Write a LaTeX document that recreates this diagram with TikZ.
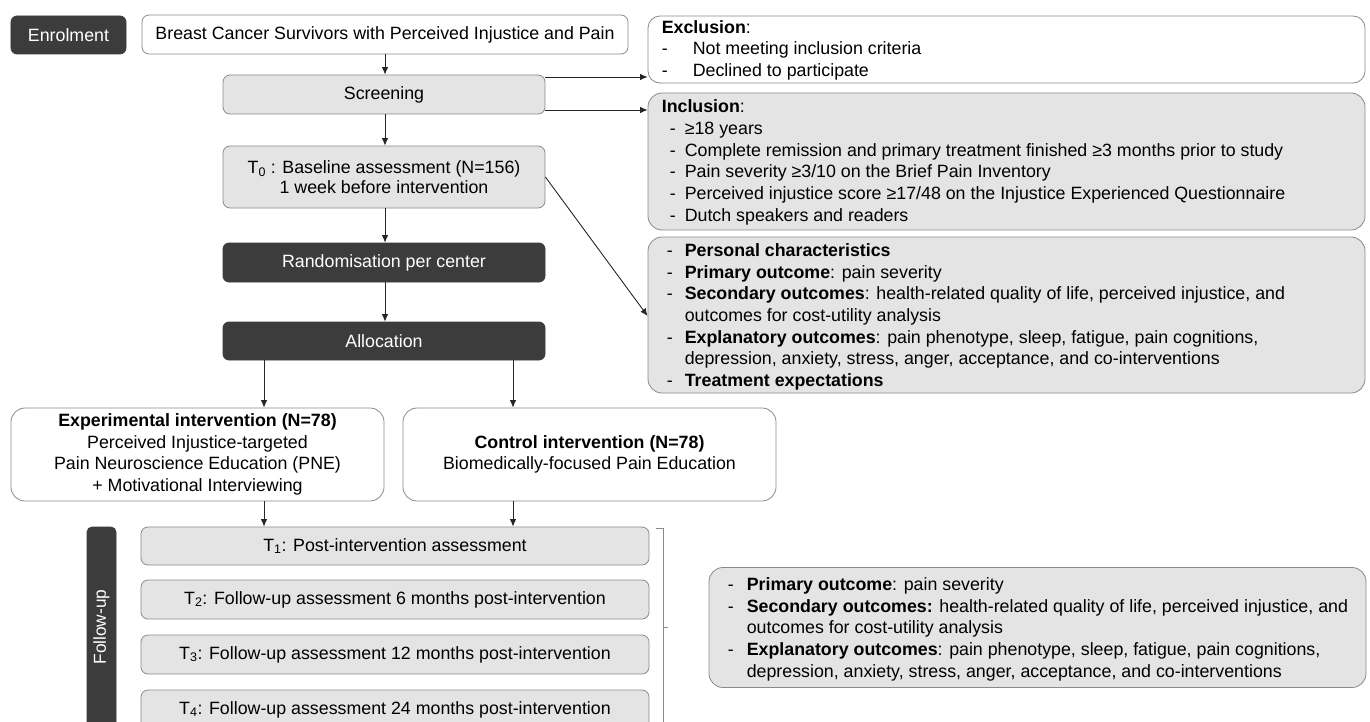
\documentclass[tikz,border=0pt]{standalone}
\usepackage{fontspec}
\setmainfont{Liberation Sans}
\usetikzlibrary{arrows.meta,calc}
\definecolor{darkfill}{HTML}{3C3C3C}
\definecolor{lightfill}{HTML}{E4E4E4}
\definecolor{edgecol}{HTML}{8A8A8A}
\newcommand{\ms}{\rule[-5.4bp]{0pt}{21.7bp}}
\newcommand{\dashitem}[2]{\ms\makebox[#1][l]{-}#2}
\tikzset{
  basebox/.style={font=\fontsize{17.8bp}{21.7bp}\selectfont, inner sep=0pt, rounded corners=7bp, draw=edgecol, line width=0.8bp, align=center},
  whitebox/.style={basebox, fill=white},
  graybox/.style={basebox, fill=lightfill},
  darkbox/.style={basebox, fill=darkfill, draw=darkfill, text=white, rounded corners=6bp},
  listtext/.style={font=\fontsize{17.8bp}{21.7bp}\selectfont, inner sep=0pt, align=left, anchor=west},
  arr/.style={-{Latex[length=7.5bp,width=6.5bp]}, line width=0.9bp, black!85},
  brk/.style={line width=0.8bp, edgecol},
}
\begin{document}
\begin{tikzpicture}[x=1bp,y=-1bp]
\useasboundingbox (0,0) rectangle (1370,721);
% left column
\node[darkbox, minimum width=115bp, minimum height=38bp] (enrol) at (68.5,35) {Enrolment};
\node[whitebox, minimum width=486bp, minimum height=39bp] (breast) at (385,34.5) {Breast Cancer Survivors with Perceived Injustice and Pain};
\node[graybox, minimum width=322bp, minimum height=39bp] (screen) at (384,94.5) {Screening};
\node[graybox, minimum width=322bp, minimum height=62bp, font=\fontsize{17.8bp}{20bp}\selectfont] (t0) at (384,177) {T\textsubscript{0} : Baseline assessment (N=156)\\1 week before intervention};
\node[darkbox, minimum width=322bp, minimum height=39bp] (rand) at (384,262.5) {Randomisation per center};
\node[darkbox, minimum width=322bp, minimum height=38bp] (alloc) at (384,341) {Allocation};
\node[whitebox, rounded corners=14bp, minimum width=373bp, minimum height=93bp] (exp) at (197.5,454.5) {\textbf{Experimental intervention (N=78)}\\Perceived Injustice-targeted\\Pain Neuroscience Education (PNE)\\+ Motivational Interviewing};
\node[whitebox, rounded corners=14bp, minimum width=373bp, minimum height=93bp] (ctrl) at (589.5,454.5) {\textbf{Control intervention (N=78)}\\Biomedically-focused Pain Education};
\node[graybox, minimum width=508bp, minimum height=38bp] (t1) at (395,546) {T\textsubscript{1}: Post-intervention assessment};
\node[graybox, minimum width=508bp, minimum height=39bp] (t2) at (395,599.5) {T\textsubscript{2}: Follow-up assessment 6 months post-intervention};
\node[graybox, minimum width=508bp, minimum height=39bp] (t3) at (395,654.5) {T\textsubscript{3}: Follow-up assessment 12 months post-intervention};
\node[graybox, minimum width=508bp, minimum height=39bp] (t4) at (395,709.5) {T\textsubscript{4}: Follow-up assessment 24 months post-intervention};
\node[darkbox, rounded corners=5bp, minimum width=29bp, minimum height=220bp] (fu) at (101.5,637) {};
\node[font=\fontsize{17.3bp}{20bp}\selectfont, text=white, rotate=90, inner sep=0pt] (futext) at (101.5,627) {Follow-up};
% right column
\node[whitebox, rounded corners=12bp, minimum width=717bp, minimum height=67bp] (excl) at (1006.5,49.5) {};
\node[listtext] (exclt) at ($(excl.west)+(14,0)$) {\ms\textbf{Exclusion}:\\\dashitem{31bp}{Not meeting inclusion criteria}\\\dashitem{31bp}{Declined to participate}};
\node[graybox, rounded corners=14bp, minimum width=717bp, minimum height=137bp] (incl) at (1006.5,161.5) {};
\node[listtext] (inclt) at ($(incl.west)+(14,0)$) {\ms\textbf{Inclusion}:\\
\hspace*{8bp}\dashitem{15bp}{≥18 years}\\
\hspace*{8bp}\dashitem{15bp}{Complete remission and primary treatment finished ≥3 months prior to study}\\
\hspace*{8bp}\dashitem{15bp}{Pain severity ≥3/10 on the Brief Pain Inventory}\\
\hspace*{8bp}\dashitem{15bp}{Perceived injustice score ≥17/48 on the Injustice Experienced Questionnaire}\\
\hspace*{8bp}\dashitem{15bp}{Dutch speakers and readers}};
\node[graybox, rounded corners=14bp, minimum width=717bp, minimum height=156bp] (out1) at (1006.5,315) {};
\node[listtext] (out1t) at ($(out1.west)+(19,1)$) {\dashitem{18bp}{\textbf{Personal characteristics}}\\
\dashitem{18bp}{\textbf{Primary outcome}: pain severity}\\
\dashitem{18bp}{\textbf{Secondary outcomes}: health-related quality of life, perceived injustice, and}\\
\ms\hspace*{18bp}outcomes for cost-utility analysis\\
\dashitem{18bp}{\textbf{Explanatory outcomes}: pain phenotype, sleep, fatigue, pain cognitions,}\\
\ms\hspace*{18bp}depression, anxiety, stress, anger, acceptance, and co-interventions\\
\dashitem{18bp}{\textbf{Treatment expectations}}};
\node[graybox, rounded corners=14bp, minimum width=657bp, minimum height=120bp] (out2) at (1037.5,627.5) {};
\node[listtext] (out2t) at ($(out2.west)+(19,1)$) {\dashitem{19bp}{\textbf{Primary outcome}: pain severity}\\
\dashitem{19bp}{\textbf{Secondary outcomes:} health-related quality of life, perceived injustice, and}\\
\ms\hspace*{19bp}outcomes for cost-utility analysis\\
\dashitem{19bp}{\textbf{Explanatory outcomes}: pain phenotype, sleep, fatigue, pain cognitions,}\\
\ms\hspace*{19bp}depression, anxiety, stress, anger, acceptance, and co-interventions};
% bracket
\coordinate (bt) at (663,528);
\coordinate (bm) at (663,627);
\draw[brk] ($(bt)+(-7,0)$) -- (bt) -- (663,735);
\draw[brk] (bm) -- ($(bm)+(5,0)$);
% connectors
\draw[arr] (breast.south -| 385,0) -- (screen.north -| 385,0);
\draw[arr] (screen.east |- 0,77) -- (excl.west |- 0,77);
\draw[arr] (screen.east |- 0,110) -- (incl.west |- 0,110);
\draw[arr] (screen.south -| 385,0) -- (t0.north -| 385,0);
\draw[arr] (t0.south -| 385,0) -- (rand.north -| 385,0);
\draw[arr] (rand.south -| 385,0) -- (alloc.north -| 385,0);
\draw[arr] (t0.east |- 0,177) -- (out1.west |- 0,316);
\draw[arr] (alloc.south -| 264,0) -- (exp.north -| 264,0);
\draw[arr] (alloc.south -| 513,0) -- (ctrl.north -| 513,0);
\draw[arr] (exp.south -| 264,0) -- (t1.north -| 264,0);
\draw[arr] (ctrl.south -| 513,0) -- (t1.north -| 513,0);
\end{tikzpicture}
\end{document}
